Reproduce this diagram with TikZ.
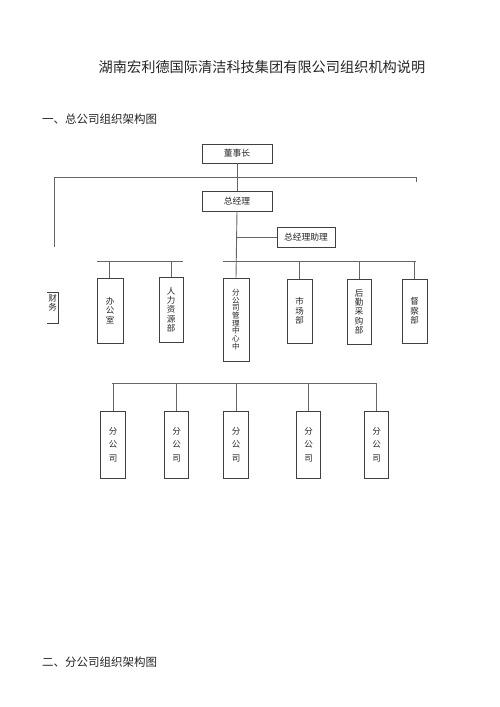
\documentclass[tikz,border=0pt]{standalone}
\usepackage{fontspec}
\setmainfont{Noto Sans CJK SC}
\begin{document}
\begin{tikzpicture}[x=1pt,y=-1pt,
  box/.style={draw=black!75, line width=0.9pt, inner sep=0pt, anchor=center, text=black!85, align=center},
  conn/.style={draw=black!60, line width=0.9pt},
  vtext/.style={font=\fontsize{8.5}{9.3}\selectfont},
  htext/.style={font=\fontsize{8.8}{10}\selectfont}]
\useasboundingbox[fill=white] (0,0) rectangle (500,707);
% titles
\node[anchor=center, text=black!85, font=\fontsize{14.2}{16}\selectfont] (title) at (262,67) {湖南宏利德国际清洁科技集团有限公司组织机构说明};
\node[anchor=west, text=black!85, font=\fontsize{11.5}{13}\selectfont, inner sep=0pt] (sec1) at (42,119) {一、总公司组织架构图};
\node[anchor=west, text=black!85, font=\fontsize{11.5}{13}\selectfont, inner sep=0pt] (sec2) at (42,662) {二、分公司组织架构图};
% top boxes
\node[box, htext, minimum width=70pt, minimum height=19pt] (dsz) at (237,153.5) {董事长};
\node[box, htext, minimum width=70pt, minimum height=20pt] (zjl) at (237,201) {总经理};
\node[box, htext, minimum width=58pt, minimum height=20pt] (zl) at (306,237) {总经理助理};
% department boxes
\node[box, vtext, minimum width=26pt, minimum height=65pt] (bgs) at (110,310.5) {办\\公\\室};
\node[box, vtext, minimum width=24pt, minimum height=65pt] (rl) at (171,309.5) {人\\力\\资\\源\\部};
\node[box, font=\fontsize{7.6}{7.7}\selectfont, minimum width=26pt, minimum height=83pt] (fgs) at (236,319.5) {分\\公\\司\\管\\理\\中\\心\\中};
\node[box, vtext, minimum width=25pt, minimum height=64pt] (sc) at (299.5,311) {市\\场\\部};
\node[box, vtext, minimum width=24pt, minimum height=65pt] (hq) at (359,311.5) {后\\勤\\采\\购\\部};
\node[box, vtext, minimum width=25pt, minimum height=64pt] (dc) at (414.5,311) {督\\察\\部};
% finance partial box
\coordinate (cwa) at (47,292);
\coordinate (cwb) at (58,292);
\coordinate (cwc) at (58,323);
\coordinate (cwd) at (47,323);
\draw[draw=black!75, line width=0.9pt] (cwa) -- (cwb) -- (cwc) -- (cwd);
\node[vtext, text=black!85, align=center, inner sep=0pt] (cw) at (52.5,303) {财\\务};
% branch boxes
\foreach \n/\x in {b1/113, b2/176.5, b3/236, b4/308.5, b5/376.5}{
  \node[box, font=\fontsize{8.5}{13.5}\selectfont, minimum width=24.5pt, minimum height=67pt] (\n) at (\x,444.5) {分\\公\\司};
}
% connectors: top
\draw[conn] (dsz.south) -- (zjl.north);
\coordinate (tl) at (54,177);
\coordinate (tr) at (416,177);
\coordinate (trd) at (416,182);
\coordinate (tld) at (54,247);
\draw[conn] (tld) -- (tl) -- (tr) -- (trd);
\draw[conn] (zjl.south) -- (fgs.north);
\coordinate (zlb) at (237,237);
\draw[conn] (zlb) -- (zl.west);
% right department bar
\coordinate (rbl) at (223,261);
\coordinate (rbr) at (416,261);
\draw[conn] (rbl) -- (rbr);
\draw[conn] (sc.north |- rbr) -- (sc.north);
\draw[conn] (hq.north |- rbr) -- (hq.north);
\draw[conn] (dc.north |- rbr) -- (dc.north);
% left department bar
\coordinate (lbl) at (97,261);
\coordinate (lbr) at (183,261);
\draw[conn] (lbl) -- (lbr);
\coordinate (lv1) at (109,261);
\coordinate (lv2) at (171,261);
\draw[conn] (lv1) -- (lv1 |- bgs.north);
\draw[conn] (lv2) -- (rl.north);
% branch bar
\coordinate (bbl) at (112,383);
\coordinate (bbr) at (377,383);
\draw[conn] (bbl) -- (bbr);
\foreach \n in {b1,b2,b3,b4,b5}{
  \draw[conn] (\n.north |- bbl) -- (\n.north);
}
\end{tikzpicture}
\end{document}
